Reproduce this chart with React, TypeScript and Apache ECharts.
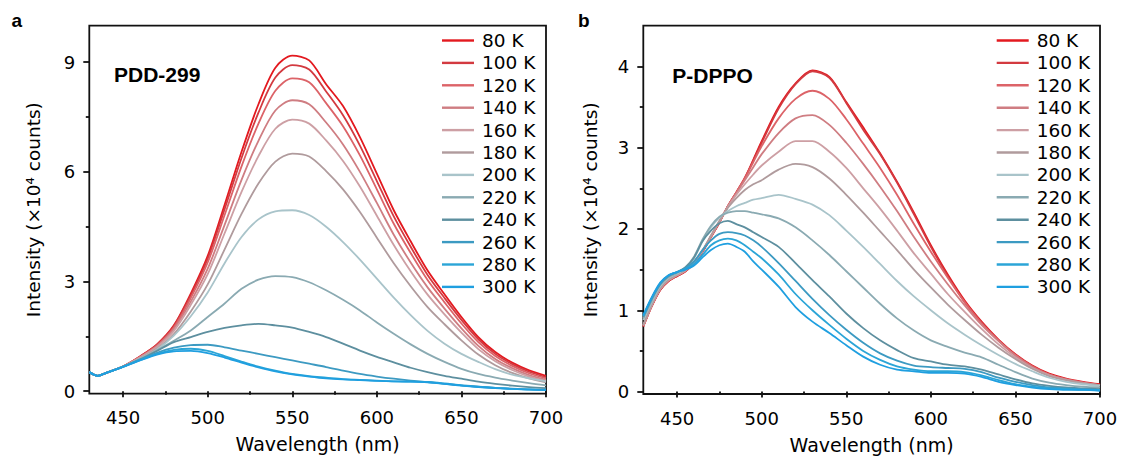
import { useEffect, useRef } from "react";
import * as echarts from "echarts";

// ---------- data ----------
const temps = ["80 K", "100 K", "120 K", "140 K", "160 K", "180 K", "200 K", "220 K", "240 K", "260 K", "280 K", "300 K"];
const colors = ["#e3191f", "#d33a40", "#dc6368", "#cf7d82", "#cd9fa4", "#b09b9d", "#a9c4ca", "#8aaab2", "#5d8f9f", "#3c9ac2", "#2ba5d7", "#1f9fe0"];

// Panel a (PDD-299): wavelength (nm)
const wlA = [430, 435, 440, 450, 460, 470, 480, 490, 500, 510, 520, 530, 540, 550, 560, 570, 580, 590, 600, 610, 620, 630, 640, 650, 660, 670, 680, 690, 700];
const pdd80 = [0.52, 0.42, 0.5, 0.68, 0.95, 1.28, 1.8, 2.67, 3.7, 5.1, 6.55, 7.85, 8.85, 9.18, 9.05, 8.4, 7.8, 6.95, 5.95, 4.95, 4.1, 3.3, 2.65, 2.03, 1.48, 1.07, 0.78, 0.57, 0.42];
const pdd100 = [0.52, 0.42, 0.5, 0.68, 0.95, 1.27, 1.78, 2.62, 3.62, 4.98, 6.38, 7.62, 8.58, 8.92, 8.8, 8.2, 7.55, 6.72, 5.75, 4.78, 3.95, 3.18, 2.55, 1.95, 1.42, 1.02, 0.74, 0.53, 0.38];
const pdd120 = [0.52, 0.42, 0.5, 0.68, 0.94, 1.25, 1.74, 2.55, 3.52, 4.82, 6.15, 7.32, 8.22, 8.56, 8.45, 7.88, 7.25, 6.45, 5.52, 4.58, 3.78, 3.04, 2.43, 1.85, 1.34, 0.96, 0.69, 0.49, 0.35];
const pdd140 = [0.52, 0.42, 0.5, 0.68, 0.93, 1.23, 1.7, 2.45, 3.35, 4.55, 5.78, 6.85, 7.68, 7.96, 7.85, 7.35, 6.75, 6.0, 5.15, 4.28, 3.52, 2.84, 2.26, 1.72, 1.24, 0.88, 0.63, 0.44, 0.31];
const pdd160 = [0.52, 0.42, 0.5, 0.68, 0.92, 1.21, 1.65, 2.36, 3.2, 4.32, 5.45, 6.43, 7.18, 7.43, 7.32, 6.86, 6.3, 5.6, 4.8, 4.0, 3.28, 2.64, 2.1, 1.6, 1.15, 0.82, 0.58, 0.4, 0.28];
const pdd180 = [0.52, 0.42, 0.5, 0.67, 0.9, 1.16, 1.56, 2.18, 2.92, 3.88, 4.85, 5.68, 6.28, 6.5, 6.42, 6.02, 5.52, 4.9, 4.2, 3.5, 2.87, 2.3, 1.83, 1.39, 1.0, 0.71, 0.5, 0.35, 0.24];
const pdd200 = [0.52, 0.42, 0.5, 0.67, 0.89, 1.14, 1.52, 2.05, 2.7, 3.5, 4.22, 4.7, 4.92, 4.95, 4.82, 4.5, 4.08, 3.6, 3.08, 2.56, 2.08, 1.65, 1.3, 1.02, 0.8, 0.6, 0.45, 0.35, 0.27];
const pdd220 = [0.52, 0.42, 0.5, 0.67, 0.88, 1.12, 1.38, 1.66, 2.03, 2.4, 2.8, 3.05, 3.15, 3.12, 2.98, 2.76, 2.5, 2.21, 1.88, 1.57, 1.28, 1.02, 0.8, 0.61, 0.47, 0.37, 0.29, 0.22, 0.16];
const pdd240 = [0.52, 0.42, 0.5, 0.67, 0.87, 1.1, 1.34, 1.48, 1.62, 1.73, 1.8, 1.84, 1.8, 1.74, 1.62, 1.48, 1.3, 1.11, 0.94, 0.79, 0.64, 0.52, 0.42, 0.34, 0.26, 0.2, 0.15, 0.11, 0.08];
const pdd260 = [0.52, 0.42, 0.5, 0.67, 0.86, 1.05, 1.19, 1.26, 1.27, 1.2, 1.11, 1.02, 0.93, 0.84, 0.75, 0.66, 0.56, 0.47, 0.4, 0.34, 0.29, 0.25, 0.2, 0.16, 0.12, 0.09, 0.07, 0.05, 0.04];
const pdd280 = [0.52, 0.42, 0.5, 0.67, 0.85, 1.02, 1.13, 1.16, 1.1, 0.96, 0.81, 0.67, 0.56, 0.47, 0.41, 0.37, 0.33, 0.31, 0.29, 0.27, 0.26, 0.25, 0.21, 0.16, 0.12, 0.09, 0.06, 0.05, 0.03];
const pdd300 = [0.52, 0.42, 0.5, 0.66, 0.84, 1.0, 1.09, 1.1, 1.04, 0.92, 0.78, 0.65, 0.54, 0.46, 0.4, 0.35, 0.32, 0.3, 0.28, 0.27, 0.26, 0.24, 0.2, 0.15, 0.11, 0.08, 0.06, 0.04, 0.03];

// Panel b (P-DPPO): wavelength (nm)
const wlB = [430, 435, 440, 445, 450, 455, 460, 465, 470, 475, 480, 485, 490, 495, 500, 510, 520, 530, 540, 550, 560, 570, 580, 590, 600, 610, 620, 630, 640, 650, 660, 670, 680, 690, 700];
const dppo80 = [0.8, 1.05, 1.25, 1.36, 1.42, 1.48, 1.58, 1.72, 1.9, 2.08, 2.28, 2.45, 2.62, 2.85, 3.08, 3.5, 3.79, 3.95, 3.87, 3.56, 3.25, 2.93, 2.58, 2.2, 1.8, 1.44, 1.12, 0.86, 0.64, 0.46, 0.32, 0.22, 0.16, 0.12, 0.09];
const dppo100 = [0.8, 1.05, 1.25, 1.36, 1.42, 1.48, 1.58, 1.72, 1.9, 2.08, 2.28, 2.45, 2.63, 2.84, 3.06, 3.48, 3.78, 3.94, 3.86, 3.55, 3.22, 2.92, 2.57, 2.18, 1.78, 1.42, 1.1, 0.85, 0.63, 0.45, 0.31, 0.21, 0.15, 0.11, 0.08];
const dppo120 = [0.81, 1.06, 1.26, 1.37, 1.43, 1.49, 1.59, 1.73, 1.91, 2.09, 2.28, 2.45, 2.62, 2.82, 3.02, 3.36, 3.6, 3.7, 3.6, 3.35, 3.05, 2.75, 2.42, 2.06, 1.72, 1.4, 1.1, 0.84, 0.63, 0.45, 0.31, 0.21, 0.15, 0.11, 0.08];
const dppo140 = [0.81, 1.06, 1.26, 1.37, 1.43, 1.49, 1.59, 1.73, 1.91, 2.09, 2.28, 2.44, 2.6, 2.76, 2.92, 3.18, 3.36, 3.4, 3.28, 3.06, 2.8, 2.52, 2.22, 1.9, 1.6, 1.32, 1.06, 0.82, 0.62, 0.44, 0.3, 0.21, 0.15, 0.11, 0.08];
const dppo160 = [0.81, 1.06, 1.26, 1.37, 1.43, 1.49, 1.59, 1.73, 1.91, 2.09, 2.27, 2.42, 2.55, 2.67, 2.78, 2.95, 3.08, 3.08, 2.95, 2.75, 2.5, 2.25, 1.98, 1.7, 1.45, 1.2, 0.98, 0.77, 0.58, 0.42, 0.29, 0.2, 0.14, 0.1, 0.08];
const dppo180 = [0.82, 1.07, 1.27, 1.38, 1.44, 1.5, 1.6, 1.74, 1.92, 2.1, 2.26, 2.38, 2.48, 2.55, 2.6, 2.73, 2.8, 2.76, 2.62, 2.42, 2.2, 1.97, 1.74, 1.5, 1.28, 1.07, 0.88, 0.7, 0.54, 0.4, 0.28, 0.19, 0.14, 0.1, 0.08];
const dppo200 = [0.88, 1.1, 1.3, 1.4, 1.45, 1.52, 1.64, 1.85, 2.02, 2.14, 2.22, 2.28, 2.32, 2.36, 2.38, 2.42, 2.37, 2.3, 2.17, 1.98, 1.78, 1.57, 1.36, 1.17, 1.0, 0.84, 0.7, 0.57, 0.45, 0.34, 0.25, 0.17, 0.12, 0.09, 0.07];
const dppo220 = [0.9, 1.12, 1.31, 1.41, 1.46, 1.53, 1.66, 1.87, 2.04, 2.15, 2.2, 2.22, 2.22, 2.2, 2.18, 2.13, 2.02, 1.86, 1.68, 1.48, 1.28, 1.08, 0.9, 0.75, 0.63, 0.55, 0.48, 0.42, 0.33, 0.24, 0.16, 0.11, 0.08, 0.06, 0.05];
const dppo240 = [0.92, 1.14, 1.32, 1.42, 1.47, 1.53, 1.65, 1.85, 1.98, 2.07, 2.1, 2.06, 2.02, 1.96, 1.9, 1.78, 1.58, 1.37, 1.17, 0.96, 0.78, 0.63, 0.51, 0.41, 0.37, 0.33, 0.31, 0.27, 0.21, 0.15, 0.1, 0.07, 0.05, 0.04, 0.03];
const dppo260 = [0.93, 1.15, 1.33, 1.43, 1.47, 1.52, 1.6, 1.74, 1.86, 1.94, 1.96, 1.95, 1.92, 1.86, 1.78, 1.58, 1.36, 1.14, 0.94, 0.76, 0.6, 0.47, 0.38, 0.32, 0.3, 0.29, 0.28, 0.24, 0.17, 0.12, 0.08, 0.05, 0.04, 0.03, 0.02];
const dppo280 = [0.93, 1.15, 1.33, 1.43, 1.47, 1.51, 1.57, 1.68, 1.8, 1.86, 1.88, 1.86, 1.8, 1.72, 1.64, 1.44, 1.2, 1.0, 0.82, 0.65, 0.5, 0.39, 0.31, 0.27, 0.25, 0.25, 0.24, 0.2, 0.14, 0.09, 0.06, 0.04, 0.03, 0.02, 0.02];
const dppo300 = [0.94, 1.16, 1.34, 1.43, 1.47, 1.5, 1.55, 1.65, 1.74, 1.8, 1.82, 1.78, 1.72, 1.6, 1.5, 1.29, 1.04, 0.86, 0.72, 0.57, 0.43, 0.33, 0.27, 0.25, 0.23, 0.23, 0.22, 0.18, 0.12, 0.08, 0.05, 0.03, 0.02, 0.02, 0.01];

const seriesA = [pdd80, pdd100, pdd120, pdd140, pdd160, pdd180, pdd200, pdd220, pdd240, pdd260, pdd280, pdd300];
const seriesB = [dppo80, dppo100, dppo120, dppo140, dppo160, dppo180, dppo200, dppo220, dppo240, dppo260, dppo280, dppo300];

// ticks
const xMajor = [450, 500, 550, 600, 650, 700];
const xMinor = [475, 525, 575, 625, 675];
const yAMajor = [0, 3, 6, 9];
const yAMinor = [1.5, 4.5, 7.5];
const yBMajor = [0, 1, 2, 3, 4];
const yBMinor = [0.5, 1.5, 2.5, 3.5];

const sampleA = "PDD-299";
const sampleB = "P-DPPO";
const xTitle = "Wavelength (nm)";
const yTitle = "Intensity (×10⁴ counts)";

const FONT = "DejaVu Sans";
const BOLD = "Liberation Sans";
const INK = "#000";

function buildOption() {
  const grids = [
    { left: 89.3, top: 25.7, width: 456.7, height: 368 },
    { left: 643.3, top: 25.7, width: 456.7, height: 368.3 },
  ].map((g) => ({ ...g, show: true, borderColor: "#111", borderWidth: 1.8, backgroundColor: "transparent" }));

  const tickStyle = { color: "#111", width: 1.8 };
  const xAxes: any[] = [];
  const yAxes: any[] = [];
  const yRanges = [
    { min: -0.07, max: 10, major: yAMajor, minor: yAMinor, gap: 46 },
    { min: -0.03, max: 4.5, major: yBMajor, minor: yBMinor, gap: 43 },
  ];
  [0, 1].forEach((gi) => {
    xAxes.push({
      type: "value", gridIndex: gi, position: "bottom", min: 430, max: 700,
      axisLine: { show: false }, splitLine: { show: false },
      axisTick: { show: true, inside: false, length: 6, lineStyle: tickStyle, customValues: xMajor },
      axisLabel: { show: true, customValues: xMajor, margin: 15, fontFamily: FONT, fontSize: 18, color: INK },
      name: xTitle, nameLocation: "middle", nameGap: 41,
      nameTextStyle: { fontFamily: FONT, fontSize: 19, color: INK },
    });
    xAxes.push({
      type: "value", gridIndex: gi, position: "bottom", min: 430, max: 700,
      axisLine: { show: false }, splitLine: { show: false },
      axisTick: { show: true, inside: false, length: 3.5, lineStyle: tickStyle, customValues: xMinor },
      axisLabel: { show: false },
    });
    const r = yRanges[gi];
    yAxes.push({
      type: "value", gridIndex: gi, position: "left", min: r.min, max: r.max,
      axisLine: { show: false }, splitLine: { show: false },
      axisTick: { show: true, inside: false, length: 6, lineStyle: tickStyle, customValues: r.major },
      axisLabel: { show: true, customValues: r.major, margin: 14, fontFamily: FONT, fontSize: 18, color: INK },
      name: yTitle, nameLocation: "middle", nameGap: r.gap, nameRotate: 90,
      nameTextStyle: { fontFamily: FONT, fontSize: 18.5, color: INK },
    });
    yAxes.push({
      type: "value", gridIndex: gi, position: "left", min: r.min, max: r.max,
      axisLine: { show: false }, splitLine: { show: false },
      axisTick: { show: true, inside: false, length: 3.5, lineStyle: tickStyle, customValues: r.minor },
      axisLabel: { show: false },
    });
  });

  const series: any[] = [];
  const panels = [
    { wl: wlA, data: seriesA, xi: 0, yi: 0 },
    { wl: wlB, data: seriesB, xi: 2, yi: 2 },
  ];
  panels.forEach((p) => {
    p.data.forEach((vals, i) => {
      series.push({
        type: "line", name: temps[i], xAxisIndex: p.xi, yAxisIndex: p.yi,
        data: vals.map((v, k) => [p.wl[k], v]),
        showSymbol: false, symbol: "none", smooth: 0.3,
        lineStyle: { color: colors[i], width: 1.8 },
        itemStyle: { color: colors[i] },
        emphasis: { disabled: true },
      });
    });
  });

  const legendBase = {
    data: temps, orient: "vertical", top: 31, itemWidth: 32, itemHeight: 2.4, icon: "rect",
    itemGap: 3.4, padding: 0, selectedMode: false,
    textStyle: { fontFamily: FONT, fontSize: 18.5, color: INK, lineHeight: 19, padding: [0, 0, 0, 3] },
  };

  const graphic = [
    { type: "text", x: 11.5, y: 20.7, style: { text: "a", font: `bold 19px "${BOLD}"`, fill: INK, verticalAlign: "middle", align: "left" } },
    { type: "text", x: 578, y: 20.7, style: { text: "b", font: `bold 19px "${BOLD}"`, fill: INK, verticalAlign: "middle", align: "left" } },
    { type: "text", x: 114, y: 74.4, style: { text: sampleA, font: `bold 21px "${BOLD}"`, fill: INK, verticalAlign: "middle", align: "left" } },
    { type: "text", x: 672.3, y: 75, style: { text: sampleB, font: `bold 21px "${BOLD}"`, fill: INK, verticalAlign: "middle", align: "left" } },
  ];

  return {
    animation: false,
    backgroundColor: "#fff",
    grid: grids,
    xAxis: xAxes,
    yAxis: yAxes,
    legend: [
      { ...legendBase, left: 442 },
      { ...legendBase, left: 996.7 },
    ],
    series,
    graphic,
  };
}

export default function App() {
  const ref = useRef<HTMLDivElement>(null);
  useEffect(() => {
    if (!ref.current) return;
    const chart = echarts.init(ref.current, undefined, { renderer: "svg" });
    chart.setOption(buildOption() as any);
    return () => chart.dispose();
  }, []);
  return (
    <div
      ref={ref}
      style={{ position: "fixed", left: 0, top: 0, width: 1123, height: 459, background: "#fff" }}
    />
  );
}
